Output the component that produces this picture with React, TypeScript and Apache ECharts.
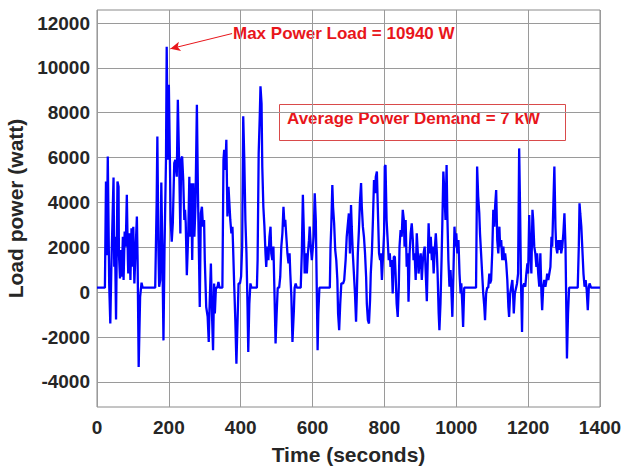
import React, { useEffect, useRef } from "react";
import * as echarts from "echarts";

const timeSec = [
  0, 22, 25, 27, 30, 33, 34, 37, 40, 46, 48, 50, 53, 57, 60, 61, 64, 67, 69, 72, 74, 77, 80, 83, 86, 87, 90, 93, 96, 98,
  101, 104, 107, 111, 113, 116, 120, 124, 127, 162, 166, 168, 171, 173, 176, 179, 182, 185, 188, 192, 194, 197, 200, 203, 205, 208, 211, 215, 218, 222,
  225, 229, 232, 234, 237, 240, 243, 245, 247, 250, 254, 257, 259, 262, 265, 268, 271, 274, 278, 281, 284, 286, 289, 292, 295, 298, 300, 304, 308, 311,
  313, 317, 320, 323, 326, 328, 331, 335, 338, 341, 349, 352, 354, 357, 360, 363, 366, 368, 371, 374, 377, 379, 382, 385, 388, 392, 394, 398, 401, 404,
  407, 410, 413, 416, 419, 421, 424, 427, 430, 445, 447, 450, 453, 455, 458, 460, 463, 466, 469, 471, 474, 477, 480, 483, 485, 488, 491, 494, 497, 500,
  503, 507, 510, 513, 516, 519, 522, 524, 527, 530, 533, 536, 538, 541, 544, 548, 550, 553, 556, 567, 570, 573, 576, 578, 581, 584, 587, 590, 592, 595,
  598, 601, 603, 606, 609, 612, 614, 616, 619, 648, 650, 652, 655, 657, 660, 663, 666, 669, 671, 674, 677, 680, 685, 688, 692, 695, 698, 701, 704, 707,
  709, 712, 715, 718, 721, 723, 726, 729, 732, 735, 737, 740, 743, 746, 749, 751, 754, 757, 760, 762, 765, 768, 771, 774, 776, 779, 782, 785, 788, 790,
  793, 796, 799, 801, 803, 806, 809, 812, 815, 817, 820, 823, 826, 829, 831, 834, 837, 840, 842, 845, 848, 851, 854, 856, 859, 862, 865, 867, 869, 870,
  873, 876, 879, 881, 884, 887, 890, 893, 895, 898, 901, 904, 907, 909, 912, 915, 918, 921, 923, 926, 929, 932, 934, 937, 940, 943, 946, 948, 951, 953,
  956, 959, 961, 964, 967, 970, 973, 975, 978, 981, 984, 986, 989, 992, 995, 998, 1000, 1003, 1006, 1009, 1012, 1014, 1017, 1019, 1022, 1055, 1058, 1061, 1064, 1066,
  1069, 1072, 1075, 1078, 1080, 1083, 1086, 1089, 1092, 1094, 1097, 1100, 1103, 1106, 1108, 1111, 1114, 1117, 1120, 1122, 1125, 1128, 1131, 1133, 1136, 1139, 1142, 1145, 1147, 1150,
  1153, 1156, 1158, 1160, 1163, 1169, 1172, 1175, 1178, 1180, 1183, 1185, 1189, 1192, 1195, 1198, 1200, 1203, 1206, 1209, 1212, 1214, 1217, 1220, 1223, 1225, 1228, 1231, 1234, 1237,
  1239, 1242, 1245, 1248, 1251, 1253, 1256, 1259, 1262, 1265, 1267, 1270, 1273, 1276, 1278, 1281, 1284, 1287, 1290, 1292, 1295, 1298, 1301, 1304, 1306, 1308, 1311, 1314, 1338, 1341,
  1343, 1345, 1348, 1351, 1354, 1357, 1360, 1363, 1366, 1369, 1371, 1375, 1400,
];

const loadW = [
  200, 200, 4930, 1650, 6050, 1730, 310, -1400, 1130, 5110, 1130, 2470, -1220, 4930, 4700, 1730, 610, 1880, 690, 2470, 540, 2700, 2030, 4340, 1430, 830, 2620, 540, 2850, 1130,
  2920, 390, 1730, 3370, 1430, -3340, -210, 420, 200, 200, 3960, 6940, 1880, 240, 540, 4890, 1730, -2150, 2030, 5900, 10940, 5900, 9250, 5750, 3220, 2250, 3070, 5750, 5900, 5150,
  8580, 5450, 2620, 5900, 6050, 5000, 3220, 3670, 3070, 760, 2620, 5150, 2470, 4860, 1430, 4860, 2470, 3810, 8360, 4410, 1430, -660, 3520, 3810, 2920, 3220, 1430, -660, -1100, -2220,
  -800, 1280, -950, -2590, 390, -950, 200, 200, 460, 200, 200, 5900, 6350, 5450, 6790, 3370, 4700, 4100, 3220, 2620, 2920, 1880, 240, -1250, -3190, -800, 390, 390, 690, 2030,
  7840, 5900, 3220, 1730, -660, -2670, -510, 390, 200, 200, 1430, 6200, 7840, 9180, 8400, 5600, 3810, 2920, 1730, 1130, 2030, 1430, 2470, 2920, 1730, 1430, 2030, -60, -2290, -950,
  200, 200, 690, 2030, 2620, 3810, 2920, 3220, 2470, 1730, 1280, 1730, 830, -210, -2220, -800, 200, 390, 200, 200, 1730, 4340, 2470, 830, 1730, 830, 1730, 2320, 2920, 2030,
  1430, 2030, 2470, 4410, 3220, -210, -2590, -950, 200, 200, 2030, 2920, 4780, 3810, 3070, 1880, 1430, 540, -950, -1700, -510, 390, 390, 540, 1430, 2470, 3000, 3510, 1730, 3880,
  2920, 1730, 830, -60, -1320, -210, 1730, 2770, 4100, 4860, 3810, 2920, 2470, 1730, 690, -510, -1250, -1400, -360, 830, 1730, 3220, 5000, 4410, 5150, 5380, 3520, 1730, 1430, 1730,
  540, 1580, 2620, 5600, 5670, 3220, 2320, 1430, 1730, 1130, 1430, -60, 1580, 1580, 830, -510, -1100, 240, 2030, 2770, 2470, 3670, 3220, 2030, 3220, 1130, 1730, -430, 830, 1730,
  2620, 3070, 2320, 1430, 1730, 540, 2620, 1730, 830, 1430, 1730, 540, 1430, 1730, 2030, 830, -400, 1730, 3070, 1730, 2470, 1430, 2030, 830, 1880, 2620, 1730, 830, -950, -1700,
  -510, 1430, 2920, 5380, 4410, 3220, 5670, 3520, 1430, 240, 990, 240, -1100, 830, 2920, 2030, 2620, 1730, 2320, 830, -60, 390, -660, -1550, 200, 200, 5600, 4260, 3520, 2620,
  1730, 830, -60, -660, -1250, -60, 200, 200, 830, 390, 540, 1730, 3670, 2920, 3810, 4550, 2320, 1730, 2920, 2030, 2320, 1430, 2030, 1430, 1730, 1280, 540, -660, -1100, -60,
  240, 540, -60, -950, -60, 390, 830, 6410, 3220, 540, -1770, 240, 390, 240, 830, 1280, 830, 3440, 1730, 830, 3670, 3220, 2030, 1730, 1130, 1730, 830, 240, 1730, -60,
  -800, 240, 540, 240, 540, 830, 540, 830, 1130, 2470, 2030, 3810, 5600, 2920, 2030, 1730, 2320, 1880, 2320, 1730, 2030, 2620, 3520, 2030, -510, -2960, -950, 200, 200, 2030,
  3960, 3520, 2920, 1880, 830, 240, 540, 90, -800, 240, 390, 200, 200,
];

const yTickValues = [-4000, -2000, 0, 2000, 4000, 6000, 8000, 10000, 12000];
const maxLabel = "Max Power Load = 10940 W";
const avgLabel = "Average Power Demand = 7 kW";
const peakPoint = [204, 10850];
const arrowStart = [376, 11530];

const FONT = "Arial, 'Liberation Sans', Helvetica, sans-serif";

export default function App() {
  const ref = useRef<HTMLDivElement>(null);
  useEffect(() => {
    if (!ref.current) return;
    const chart = echarts.init(ref.current, null, { renderer: "svg" });
    const data = timeSec.map((t, i) => [t, loadW[i]]);
    chart.setOption({
      animation: false,
      backgroundColor: "#ffffff",
      grid: {
        left: 97,
        right: 22,
        top: 10,
        bottom: 59,
        outerBoundsMode: "none",
        containLabel: false,
        show: true,
        borderColor: "#8a8a8a",
        borderWidth: 1,
        backgroundColor: "transparent",
      },
      xAxis: {
        type: "value",
        min: 0,
        max: 1400,
        interval: 200,
        name: "Time (seconds)",
        nameLocation: "middle",
        nameGap: 37,
        nameTextStyle: { fontSize: 21, fontWeight: "bold", color: "#262626", fontFamily: FONT },
        axisLine: { show: false },
        axisTick: { show: false },
        axisLabel: {
          fontSize: 19,
          fontWeight: "bold",
          color: "#262626",
          fontFamily: FONT,
          margin: 11,
          formatter: (v: number) => String(v),
        },
        splitLine: { show: true, lineStyle: { color: "#9a9a9a", width: 1 } },
      },
      yAxis: {
        type: "value",
        min: -5120,
        max: 12580,
        name: "Load power (watt)",
        nameLocation: "middle",
        nameGap: 62,
        nameTextStyle: { fontSize: 21, fontWeight: "bold", color: "#262626", fontFamily: FONT },
        axisLine: { show: false },
        axisTick: { show: false, customValues: yTickValues },
        axisLabel: {
          fontSize: 19,
          fontWeight: "bold",
          color: "#262626",
          fontFamily: FONT,
          margin: 7,
          customValues: yTickValues,
          formatter: (v: number) => String(v),
        },
        splitLine: { show: true, lineStyle: { color: "#9a9a9a", width: 1 } },
      },
      series: [
        {
          type: "line",
          data,
          showSymbol: false,
          lineStyle: { color: "#0000ff", width: 2.3 },
          itemStyle: { color: "#0000ff" },
          silent: true,
          markLine: {
            silent: true,
            animation: false,
            label: { show: false },
            lineStyle: { color: "#e8161b", width: 1, type: "solid" },
            symbolSize: [7, 10],
            data: [
              [
                { coord: arrowStart, symbol: "none" },
                { coord: peakPoint, symbol: "arrow" },
              ],
            ],
          },
        },
      ],
      graphic: [
        {
          type: "text",
          left: 233,
          top: 25,
          style: {
            text: maxLabel,
            fill: "#e8161b",
            font: `bold 17px ${FONT}`,
          },
        },
        {
          type: "rect",
          shape: { x: 279.5, y: 104.5, width: 286, height: 36 },
          style: { fill: "none", stroke: "#d94a4a", lineWidth: 1 },
        },
        {
          type: "text",
          left: 287,
          top: 110,
          style: {
            text: avgLabel,
            fill: "#e8161b",
            font: `bold 17px ${FONT}`,
          },
        },
      ],
    });
    return () => chart.dispose();
  }, []);
  return (
    <div
      ref={ref}
      style={{ position: "fixed", left: 0, top: 0, width: 622, height: 466, background: "#fff" }}
    />
  );
}
